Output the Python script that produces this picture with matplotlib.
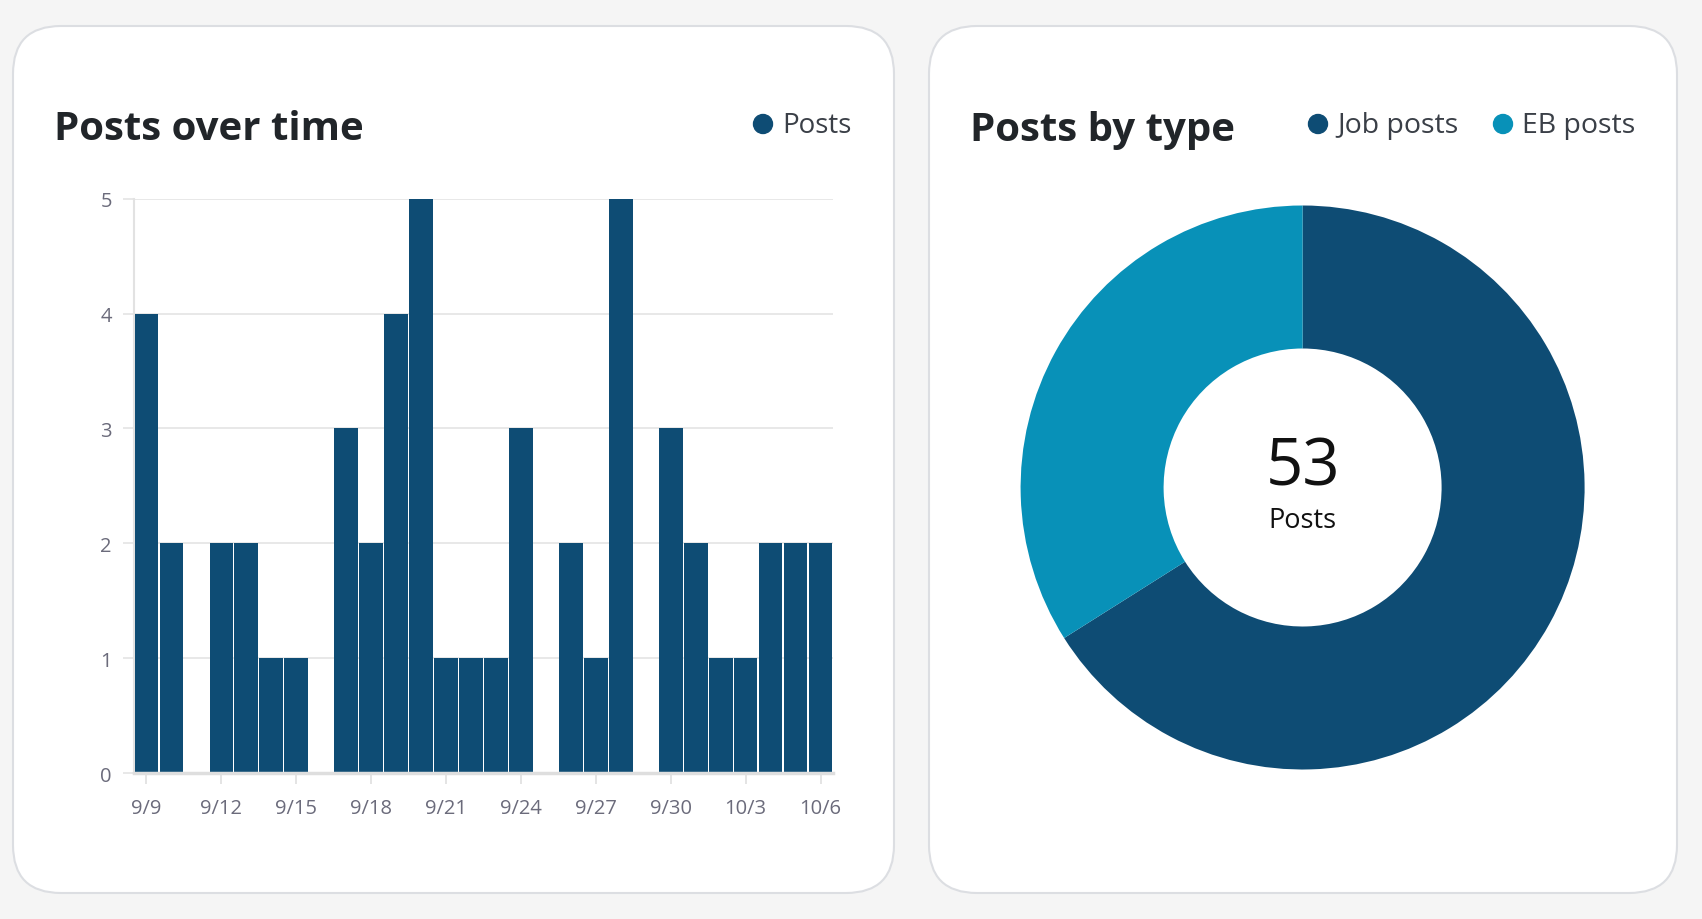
import matplotlib
matplotlib.use("Agg")
import matplotlib.pyplot as plt
from matplotlib.patches import FancyBboxPatch, Circle

plt.rcParams["font.family"] = ["Open Sans", "DejaVu Sans"]

# data
dates = ["9/9", "9/10", "9/11", "9/12", "9/13", "9/14", "9/15", "9/16", "9/17", "9/18",
         "9/19", "9/20", "9/21", "9/22", "9/23", "9/24", "9/25", "9/26", "9/27", "9/28",
         "9/29", "9/30", "10/1", "10/2", "10/3", "10/4", "10/5", "10/6"]
posts = [4, 2, 0, 2, 2, 1, 1, 0, 3, 2, 4, 5, 1, 1, 1, 3, 0, 2, 1, 5, 0, 3, 2, 1, 1, 2, 2, 2]
type_labels = ["Job posts", "EB posts"]
type_counts = [35, 18]

DARK = "#0e4c74"
LIGHT = "#0891b8"
W, H = 1702, 920

fig = plt.figure(figsize=(W / 100, H / 100), dpi=100)
fig.patch.set_facecolor("#f5f5f5")

# background layer in pixel coords
bg = fig.add_axes([0, 0, 1, 1])
bg.set_xlim(0, W)
bg.set_ylim(H, 0)
bg.axis("off")

for x0, x1 in [(13, 894), (929, 1677)]:
    y0, y1 = 27, 894
    card = FancyBboxPatch((x0, y0), x1 - x0, y1 - y0,
                          boxstyle="round,pad=0,rounding_size=48",
                          facecolor="white", edgecolor="#dcdee2", linewidth=1.5)
    bg.add_patch(card)

# titles
bg.text(54, 130, "Posts over time", fontsize=29, fontweight="bold",
        color="#212529", va="center", ha="left")
bg.text(970, 130, "Posts by type", fontsize=29, fontweight="bold",
        color="#212529", va="center", ha="left")

# legends
bg.add_patch(Circle((763, 125), 9.5, color=DARK))
bg.text(782, 126, "Posts", fontsize=20, color="#3a3f47", va="center", ha="left")
bg.add_patch(Circle((1318, 125), 9.5, color=DARK))
bg.text(1337, 126, type_labels[0], fontsize=20.5, color="#3a3f47", va="center", ha="left")
bg.add_patch(Circle((1503, 125), 9.5, color=LIGHT))
bg.text(1522, 126, type_labels[1], fontsize=20.5, color="#3a3f47", va="center", ha="left")

# bar chart
left, right = 134 / W, 833 / W
top, bottom = 1 - 199.7 / H, 1 - 774 / H
ax = fig.add_axes([left, bottom, right - left, top - bottom])
ax.set_facecolor("none")
xs = list(range(len(dates)))
ax.bar(xs, posts, width=0.95, color=DARK, zorder=3)
ax.set_xlim(-0.5, len(dates) - 0.5)
ax.set_ylim(0, 5)
ax.set_yticks([0, 1, 2, 3, 4, 5])
ax.set_xticks(xs[::3])
ax.set_xticklabels(dates[::3])
ax.grid(axis="y", color="#e6e6e6", linewidth=1.3, zorder=0)
for s in ["top", "right"]:
    ax.spines[s].set_visible(False)
ax.spines["left"].set_color("#e2e2e2")
ax.spines["left"].set_linewidth(1.5)
ax.spines["bottom"].set_color("#dedede")
ax.spines["bottom"].set_linewidth(2.5)
ax.spines["bottom"].set_zorder(4)
ax.tick_params(axis="y", length=8, width=1.3, color="#e6e6e6", pad=8,
               labelsize=14.5, labelcolor="#6b6b7b")
ax.tick_params(axis="x", length=8, width=1.3, color="#e2e2e2", pad=10,
               labelsize=14.5, labelcolor="#6b6b7b")

# donut chart
cx, cy, r = 1302.6, 488.5, 282
ax2 = fig.add_axes([(cx - r) / W, 1 - (cy + r) / H, 2 * r / W, 2 * r / H])
ax2.pie(type_counts, colors=[DARK, LIGHT], startangle=90, counterclock=False,
        radius=1, wedgeprops=dict(width=1 - 139 / 282, edgecolor="none"))
ax2.set_xlim(-1, 1)
ax2.set_ylim(-1, 1)
ax2.set_aspect("equal")
ax2.axis("off")

bg.text(cx, 469, str(sum(type_counts)), fontsize=47, color="#111111",
        ha="center", va="center", zorder=5)
bg.text(cx, 521, "Posts", fontsize=19.5, color="#111111",
        ha="center", va="center", zorder=5)

fig.savefig("out.png", dpi=100, facecolor=fig.get_facecolor())
